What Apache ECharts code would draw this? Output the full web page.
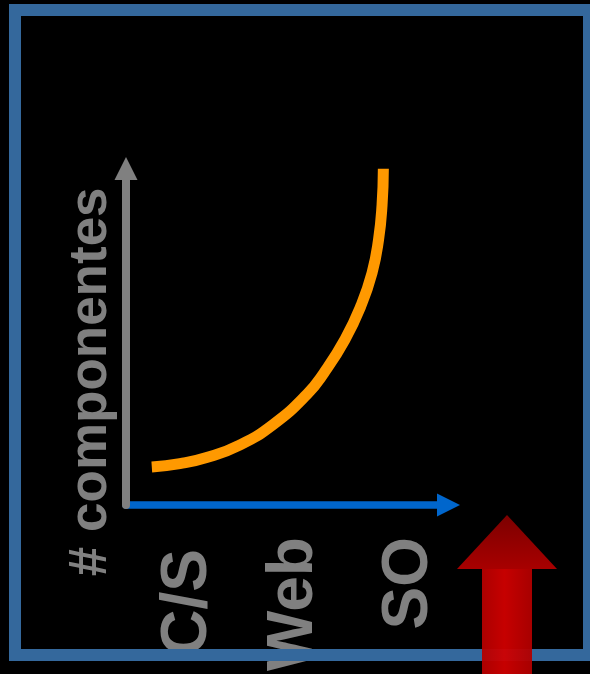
<!DOCTYPE html>
<html>
<head>
<meta charset="utf-8">
<script src="https://cdn.jsdelivr.net/npm/echarts@6/dist/echarts.min.js"></script>
<style>
  html, body { margin: 0; padding: 0; background: #000; }
  #chart { width: 590px; height: 674px; }
</style>
</head>
<body>
<div id="chart"></div>
<script>
// Architecture generations along the horizontal axis and where each sits (0..100 scale)
const categories = ['C/S', 'Web', 'SO'];
const categoryPositions = [19.3, 52.2, 88.0];

// Growth in number of components, as [generation position, components] (0..100 scale)
const growthCurve = [
  [8.0, 11.3], [16.7, 12.3], [25.0, 14.1], [35.4, 17.9], [45.7, 24.0],
  [56.1, 32.9], [61.4, 39.3], [67.9, 49.2], [72.8, 59.1], [76.3, 69.0],
  [78.3, 78.8], [79.4, 89.2], [79.8, 99.9]
];

const yAxisTitle = '# componentes';

const GRAY = '#808080';
const FONT = '"Liberation Sans", Arial, Helvetica, sans-serif';

const chart = echarts.init(document.getElementById('chart'), null, { renderer: 'canvas' });

chart.setOption({
  backgroundColor: '#000000',
  animation: false,
  grid: { left: 126, right: 141.5, top: 168.5, bottom: 168, containLabel: false },
  xAxis: {
    type: 'value',
    min: 0,
    max: 100,
    splitLine: { show: false },
    axisTick: { show: false },
    axisLine: {
      show: true,
      symbol: ['none', 'triangle'],
      symbolSize: [23, 23],
      lineStyle: { color: '#0066cc', width: 7.5 }
    },
    axisLabel: {
      customValues: categoryPositions,
      rotate: 90,
      margin: 32,
      color: GRAY,
      fontSize: 64,
      fontWeight: 'bold',
      fontFamily: FONT,
      formatter: function (v) {
        const i = categoryPositions.indexOf(v);
        const name = i >= 0 ? categories[i] : '';
        return name === 'C/S' ? '{shift|' + name + '}' : name;
      },
      rich: {
        shift: {
          color: GRAY,
          fontSize: 64,
          fontWeight: 'bold',
          fontFamily: FONT,
          padding: [0, 12, 0, 0]
        }
      }
    }
  },
  yAxis: {
    type: 'value',
    min: 0,
    max: 100,
    splitLine: { show: false },
    axisTick: { show: false },
    axisLabel: { show: false },
    axisLine: {
      show: true,
      symbol: ['none', 'triangle'],
      symbolSize: [23, 23],
      lineStyle: { color: GRAY, width: 8 }
    },
    z: 3,
    name: yAxisTitle,
    nameLocation: 'middle',
    nameRotate: 90,
    nameGap: 8,
    nameTextStyle: {
      color: GRAY,
      fontSize: 53,
      fontWeight: 'bold',
      fontFamily: FONT,
      padding: [0, 90, 0, 0]
    }
  },
  series: [{
    type: 'line',
    data: growthCurve,
    smooth: 0.5,
    showSymbol: false,
    clip: false,
    lineStyle: { color: '#ff9900', width: 11, cap: 'butt' },
    z: 5
  }],
  graphic: [
    {
      // slide frame
      type: 'rect',
      z: 100,
      shape: { x: 15, y: 10, width: 574, height: 645 },
      style: { fill: 'none', stroke: '#34689c', lineWidth: 12 }
    },
    {
      // red "up" arrow: shaft
      type: 'rect',
      z: 110,
      shape: { x: 482, y: 567, width: 50, height: 110 },
      style: {
        opacity: 0.95,
        fill: {
          type: 'linear', x: 0, y: 0, x2: 1, y2: 0,
          colorStops: [
            { offset: 0, color: '#b40000' },
            { offset: 0.45, color: '#d00000' },
            { offset: 1, color: '#b00000' }
          ]
        }
      }
    },
    {
      // red "up" arrow: head
      type: 'polygon',
      z: 111,
      shape: { points: [[507, 515], [557, 569], [457, 569]] },
      style: {
        fill: {
          type: 'linear', x: 0, y: 0, x2: 0, y2: 1,
          colorStops: [
            { offset: 0, color: '#7c0000' },
            { offset: 1, color: '#a80000' }
          ]
        }
      }
    }
  ]
});
</script>
</body>
</html>
